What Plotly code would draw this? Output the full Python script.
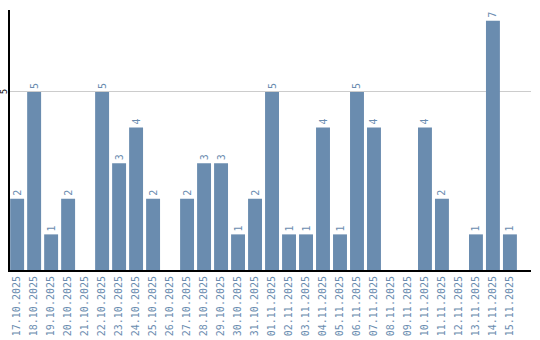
import plotly.graph_objects as go

dates = ["17.10.2025","18.10.2025","19.10.2025","20.10.2025","21.10.2025","22.10.2025",
         "23.10.2025","24.10.2025","25.10.2025","26.10.2025","27.10.2025","28.10.2025",
         "29.10.2025","30.10.2025","31.10.2025","01.11.2025","02.11.2025","03.11.2025",
         "04.11.2025","05.11.2025","06.11.2025","07.11.2025","08.11.2025","09.11.2025",
         "10.11.2025","11.11.2025","12.11.2025","13.11.2025","14.11.2025","15.11.2025"]
counts = [2,5,1,2,0,5,3,4,2,0,2,3,3,1,2,5,1,1,4,1,5,4,0,0,4,2,0,1,7,1]
y_ticks = [5]

color = "#6a8caf"
labels = [str(v) if v > 0 else "" for v in counts]

fig = go.Figure(go.Bar(
    x=dates, y=counts, marker_color=color, marker_line_width=0,
    text=labels, textposition="outside", textangle=-90,
    textfont=dict(family="DejaVu Sans Mono", size=10, color=color),
    cliponaxis=False,
))
for t in y_ticks:
    fig.add_annotation(x=0, xref="paper", y=t, yref="y", text=str(t), showarrow=False,
                       textangle=-90, xanchor="center", yanchor="middle", xshift=-5,
                       font=dict(family="DejaVu Sans", size=8, color="black"))
fig.update_layout(
    width=540, height=340,
    margin=dict(l=10, r=9, t=10, b=70),
    paper_bgcolor="white", plot_bgcolor="white",
    showlegend=False, bargap=0.18,
    xaxis=dict(type="category", range=[-0.42, 30.24], tickangle=-90, automargin=False,
               tickfont=dict(family="DejaVu Sans Mono", size=10, color=color),
               showline=True, linecolor="black", linewidth=2, ticks="",
               showgrid=False, zeroline=False),
    yaxis=dict(range=[0, 7.3], tickvals=y_ticks, showticklabels=False, automargin=False,
               showline=True, linecolor="black", linewidth=2,
               showgrid=True, gridcolor="#cccccc", gridwidth=1, zeroline=False,
               ticks=""),
)
fig.write_html("out.html")
